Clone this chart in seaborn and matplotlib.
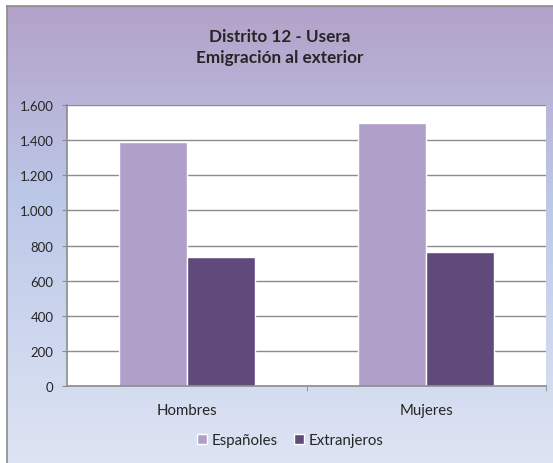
import numpy as np
import pandas as pd
import seaborn as sns
import matplotlib.pyplot as plt
from matplotlib.colors import LinearSegmentedColormap
from matplotlib.ticker import FuncFormatter

categorias = ["Hombres", "Mujeres"]
espanoles = [1390, 1495]
extranjeros = [735, 762]
series = ["Españoles", "Extranjeros"]
colores = ["#b09fc8", "#5f4a7b"]

df = pd.DataFrame({
    "sexo": categorias * 2,
    "grupo": [series[0]] * 2 + [series[1]] * 2,
    "valor": espanoles + extranjeros,
})

sns.set_style("white")
plt.rcParams["font.family"] = ["Lato", "DejaVu Sans"]

W, H = 553, 464
fig = plt.figure(figsize=(W / 100, H / 100), dpi=100)

# fondo con degradado
bg = fig.add_axes([7 / W, 0, 1 - 7 / W, 1 - 7 / H], zorder=-5)
grad_cmap = LinearSegmentedColormap.from_list(
    "fondo", [(0, "#b3a1c8"), (0.42, "#bcc8e8"), (1, "#dde4f3")])
bg.imshow(np.linspace(0, 1, 256).reshape(-1, 1), aspect="auto", cmap=grad_cmap,
          extent=[0, 1, 0, 1], origin="upper")
bg.set_xticks([])
bg.set_yticks([])
for s in ["left", "top"]:
    bg.spines[s].set_color("#8c8c8c")
    bg.spines[s].set_linewidth(1.2)
for s in ["right", "bottom"]:
    bg.spines[s].set_visible(False)

ax = fig.add_axes([67 / W, 1 - 387 / H, (546 - 67) / W, (387 - 106) / H])
sns.barplot(data=df, x="sexo", y="valor", hue="grupo", palette=colores,
            width=0.567, saturation=1, ax=ax, legend=True)

ax.set_facecolor("white")
ax.set_ylim(0, 1600)
ax.set_yticks(range(0, 1601, 200))
ax.yaxis.set_major_formatter(FuncFormatter(lambda v, p: f"{int(v):,}".replace(",", ".")))
ax.grid(axis="y", color="#8c8c8c", linewidth=1)
ax.set_axisbelow(True)
ax.set_xlim(-0.5, 1.5)
ax.set_xlabel("")
ax.set_ylabel("")
for s in ["top", "right"]:
    ax.spines[s].set_visible(False)
for s in ["left", "bottom"]:
    ax.spines[s].set_color("#8c8c8c")
    ax.spines[s].set_linewidth(1.2)
ax.tick_params(axis="y", left=True, length=3.6, color="#8c8c8c", labelsize=9.5, pad=6)
ax.tick_params(axis="x", bottom=False, labelsize=10.8, pad=9)
ax.set_xticks([0.5, 1.5], minor=True)
ax.tick_params(axis="x", which="minor", bottom=True, length=3.6, color="#8c8c8c")

leg = ax.legend(loc="center", bbox_to_anchor=((290 - 67) / 479, -(441 - 387) / 281), ncol=2,
                frameon=False, fontsize=10.8, handlelength=0.65, handleheight=0.65,
                handletextpad=0.3, columnspacing=1.1)

fig.text(280 / W, 1 - 37 / H, "Distrito 12 - Usera", ha="center", va="center",
         fontsize=12.3, fontweight="bold")
fig.text(280 / W, 1 - 58 / H, "Emigración al exterior", ha="center", va="center",
         fontsize=12.3, fontweight="bold")

fig.savefig("out.png", dpi=100)
